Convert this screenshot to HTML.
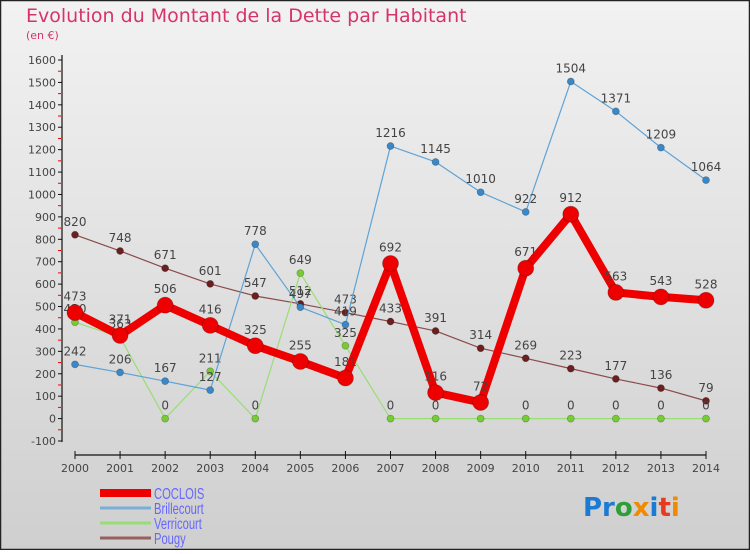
<!DOCTYPE html>
<html><head><meta charset="utf-8"><style>
html,body{margin:0;padding:0}
body{width:750px;height:550px;overflow:hidden;font-family:"DejaVu Sans","Liberation Sans",sans-serif}
</style></head><body>
<svg id="chart" width="750" height="550" xmlns="http://www.w3.org/2000/svg">
<defs><linearGradient id="bg" x1="0" y1="0" x2="0" y2="1"><stop offset="0" stop-color="#f2f2f2"/><stop offset="1" stop-color="#cfcfcf"/></linearGradient></defs>
<rect x="0.5" y="0.5" width="749" height="549" fill="url(#bg)" stroke="#222" stroke-width="1.5"/>
<text x="26" y="22" font-size="19" fill="#d6336c" font-family="DejaVu Sans,sans-serif">Evolution du Montant de la Dette par Habitant</text>
<text x="26" y="39" font-size="11" fill="#d6336c">(en €)</text>
<g id="axes"></g><g id="series"></g><g id="legend"></g>
<text x="583" y="516" font-size="26" font-weight="bold" font-family="DejaVu Sans,sans-serif"><tspan fill="#1a7ad4">Pr</tspan><tspan fill="#2e9e3a">o</tspan><tspan fill="#f08a00">x</tspan><tspan fill="#1a7ad4">i</tspan><tspan fill="#e63b1f">t</tspan><tspan fill="#f08a00">i</tspan></text>
</svg>
<script>
const years=[2000,2001,2002,2003,2004,2005,2006,2007,2008,2009,2010,2011,2012,2013,2014];
const yTicks=[-100,0,100,200,300,400,500,600,700,800,900,1000,1100,1200,1300,1400,1500,1600];
const coclois=[473,371,506,416,325,255,181,692,116,72,671,912,563,543,528];
const brillecourt=[242,206,167,127,778,497,419,1216,1145,1010,922,1504,1371,1209,1064];
const verricourt=[430,363,0,211,0,649,325,0,0,0,0,0,0,0,0];
const pougy=[820,748,671,601,547,512,473,433,391,314,269,223,177,136,79];
const seriesNames=["COCLOIS","Brillecourt","Verricourt","Pougy"];

const NS="http://www.w3.org/2000/svg";
const x0=75,x1=706,yTop=60,yBot=441;
const X=i=>x0+(x1-x0)*i/(years.length-1);
const Y=v=>yBot-(v+100)*(yBot-yTop)/1700;
function mk(tag,attrs,parent){const e=document.createElementNS(NS,tag);for(const k in attrs)e.setAttribute(k,attrs[k]);parent.appendChild(e);return e;}
const ax=document.getElementById('axes');
let l=mk('line',{x1:62,y1:55,x2:62,y2:442,stroke:'#111','stroke-width':1.2},ax);


l=mk('line',{x1:75,y1:455,x2:706,y2:455,stroke:'#111','stroke-width':1.2},ax);


yTicks.forEach((v,i)=>{
  const y=Y(v);
  mk('line',{x1:58,y1:y,x2:62,y2:y,stroke:'#111'},ax);
  if(i<yTicks.length-1) mk('line',{x1:58,y1:y-(yBot-yTop)/34,x2:61,y2:y-(yBot-yTop)/34,stroke:'#e00'},ax);
  const t=mk('text',{x:56,y:y+4,'font-size':11,fill:'#444','text-anchor':'end'},ax);
  t.textContent=v;
  
  
});
years.forEach((yr,i)=>{
  const x=X(i);
  mk('line',{x1:x,y1:451,x2:x,y2:459,stroke:'#111'},ax);
  const t=mk('text',{x:x,y:472,'font-size':11,fill:'#444','text-anchor':'middle'},ax);
  t.textContent=yr;
  
  
});
const sg=document.getElementById('series');
function draw(data,name,color,w,r,ptColor){
  const g=mk('g',{},sg);
  
  
  const p=mk('polyline',{points:data.map((v,i)=>X(i)+','+Y(v)).join(' '),fill:'none',stroke:color,'stroke-width':w,'stroke-linejoin':'round'},g);
  
  
  data.forEach((v,i)=>{
    const c=mk('circle',{cx:X(i),cy:Y(v),r:r,fill:ptColor,stroke:'rgba(0,0,0,0.25)','stroke-width':0.8},g);
    
    
    const t=mk('text',{x:X(i),y:Y(v)-9-(r>5?3:0),'font-size':12,fill:'#444','text-anchor':'middle'},g);
    t.textContent=v;
    
    
  });
}
draw(pougy,'pougy','#8b4a4a',1.2,3.5,'#6b1f1f');
draw(verricourt,'verricourt','#99dd77',1.2,3.5,'#77cc33');
draw(brillecourt,'brillecourt','#5fa3d6',1.2,3.5,'#3a88c8');
draw(coclois,'coclois','#ee0000',8,8,'#ee0000');
const lg=document.getElementById('legend');
const lc=['#ee0000','#7aaed6','#99dd77','#9a6060'],lw=[8,3,3,3];
seriesNames.forEach((n,i)=>{
  const y=493+i*15;
  const ln=mk('line',{x1:100,y1:y,x2:151,y2:y,stroke:lc[i],'stroke-width':lw[i]},lg);
  
  
  const t=mk('text',{x:0,y:0,'font-size':16,fill:'#6666ff','font-family':'Liberation Sans, sans-serif',transform:'translate(154,'+(y+6)+') scale(0.7,1)'},lg);
  t.textContent=n;
  
  
});
</script>
</body></html>
